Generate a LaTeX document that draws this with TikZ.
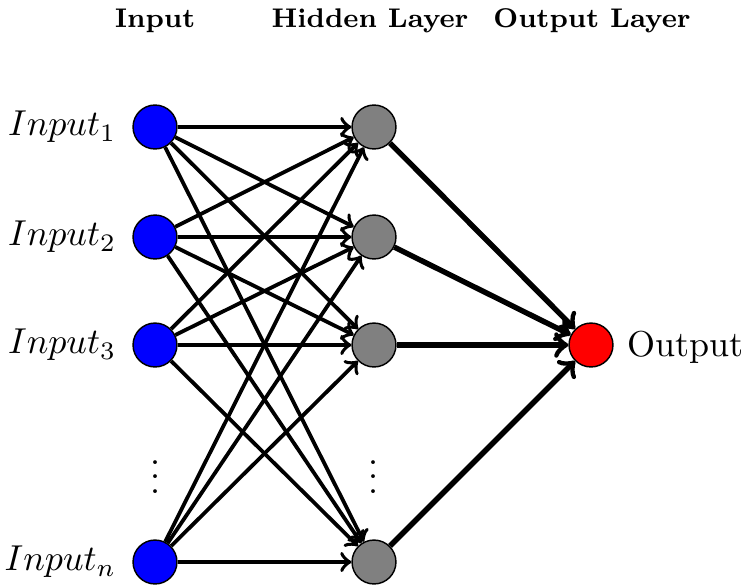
\documentclass[tikz,border=0pt]{standalone}
\usepackage{fontspec}
\begin{document}
\begin{tikzpicture}[x=0.2778pt,y=-0.2778pt,
  neuron/.style={circle,draw=black,line width=0.4pt,minimum size=12.2pt,inner sep=0pt},
  inp/.style={neuron,fill=blue},
  hid/.style={neuron,fill=gray},
  outn/.style={neuron,fill=red},
  titletext/.style={font=\fontsize{7.5}{9}\selectfont\bfseries,inner sep=0pt,anchor=base},
  conn/.style={->,line width=1.05pt},
  conn2/.style={->,line width=1.5pt}]
\useasboundingbox (0,0) rectangle (750,587);
% titles
\node[titletext] (tin) at (155,27) {Input};
\node[titletext] (thid) at (370,27) {Hidden Layer};
\node[titletext] (tout) at (592,27) {Output Layer};
% input layer
\node[inp] (i1) at (155,127) {};
\node[inp] (i2) at (155,237) {};
\node[inp] (i3) at (155,345) {};
\node[inp] (in) at (155,562) {};
% hidden layer
\node[hid] (h1) at (374,127) {};
\node[hid] (h2) at (374,237) {};
\node[hid] (h3) at (374,345) {};
\node[hid] (hn) at (374,562) {};
% output
\node[outn] (o) at (591,345) {};
% labels
\node[anchor=east,inner sep=0pt] (l1) at (117,127) {$Input_1$};
\node[anchor=east,inner sep=0pt] (l2) at (117,237) {$Input_2$};
\node[anchor=east,inner sep=0pt] (l3) at (117,345) {$Input_3$};
\node[anchor=east,inner sep=0pt] (ln) at (117,562) {$Input_n$};
\node[anchor=base west,inner sep=0pt] (lo) at (627,356) {Output};
% dots
\node[inner sep=0pt] (d1) at (155,466) {$\vdots$};
\node[inner sep=0pt] (d2) at (373,466) {$\vdots$};
% connections
\foreach \a in {1,2,3,n}{
  \foreach \b in {1,2,3,n}{
    \draw[conn] (i\a) -- (h\b);
  }
  \draw[conn2] (h\a) -- (o);
}
\end{tikzpicture}
\end{document}
